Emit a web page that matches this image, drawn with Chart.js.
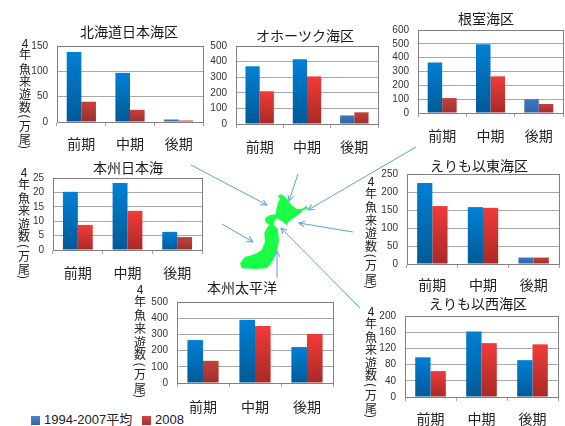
<!DOCTYPE html>
<html lang="ja">
<head>
<meta charset="utf-8">
<title>4年魚来遊数</title>
<script src="https://cdn.jsdelivr.net/npm/chart.js@4"></script>
<style>
  html, body { margin: 0; padding: 0; background: #fff; }
  body { position: relative; width: 565px; height: 426px; overflow: hidden; }
  canvas { position: absolute; }
  svg { position: absolute; left: 0; top: 0; }
  #legend { position: absolute; left: 31px; top: 411px; height: 17px; font: 13px/17px "Liberation Sans", "Noto Sans CJK JP", sans-serif; color: #222; white-space: nowrap; }
  #legend i { position: absolute; top: 5px; width: 9px; height: 9px; }
  #legend span { position: absolute; top: 0; }
</style>
</head>
<body>
<svg width="565" height="426" viewBox="0 0 565 426">
  <defs>
    <marker id="head" markerWidth="7" markerHeight="7" refX="6" refY="3" orient="auto">
      <path d="M0,0 L6,3 L0,6" fill="none" stroke="#5ba3d9" stroke-width="1"/>
    </marker>
  </defs>
  <!-- map of Japan -->
  <polygon fill="#19ff45" transform="translate(235,185) scale(0.3333)"
    points="140,28 150,35 158,45 170,60 185,72 200,72 216,62 218,72 205,75 195,85 175,100 160,112 155,120 140,108 125,100 118,108 118,122 128,130 132,165 125,200 115,225 105,240 95,250 60,252 20,250 15,235 30,215 45,212 65,205 80,195 90,170 88,145 95,130 103,120 92,112 90,100 105,90 122,88 125,68 130,50 135,42 128,32"/>
  <g stroke="#5ba3d9" stroke-width="1" fill="none">
    <line x1="191" y1="165" x2="267" y2="205" marker-end="url(#head)"/>
    <line x1="298" y1="174" x2="289" y2="201" marker-end="url(#head)"/>
    <line x1="416" y1="147" x2="308" y2="210" marker-end="url(#head)"/>
    <line x1="353" y1="232" x2="299" y2="223" marker-end="url(#head)"/>
    <line x1="360" y1="308" x2="281" y2="228" marker-end="url(#head)"/>
    <line x1="277" y1="278" x2="277" y2="251" marker-end="url(#head)"/>
    <line x1="222" y1="224" x2="253" y2="242" marker-end="url(#head)"/>
  </g>
</svg>
<div id="legend">
  <i style="left:0;background:linear-gradient(#4a86cc,#2f64a6)"></i><span style="left:13px">1994-2007平均</span>
  <i style="left:111px;background:linear-gradient(#d04442,#a03230)"></i><span style="left:124px">2008</span>
</div>
<script>
const categories = ["前期", "中期", "後期"];
const seriesNames = ["1994-2007平均", "2008"];
const yAxisLabel = ["4", "年", "魚", "来", "遊", "数", "(", "万", "尾", ")"];
// where each character sits between the top and bottom of the stacked label
const yAxisLabelStops = [0, 0.114, 0.25, 0.37, 0.495, 0.615, 0.705, 0.8, 0.925, 1];

const hokkaidoAvg = [138, 97, 5];
const hokkaido2008 = [40, 24, 3];
const okhotskAvg = [370, 415, 55];
const okhotsk2008 = [210, 305, 75];
const nemuroAvg = [365, 497, 100];
const nemuro2008 = [108, 265, 65];
const honshuJapanSeaAvg = [20.2, 23.3, 6.3];
const honshuJapanSea2008 = [8.7, 13.6, 4.5];
const erimoEastAvg = [225, 158, 18];
const erimoEast2008 = [161, 156, 18];
const erimoWestAvg = [98, 162, 91];
const erimoWest2008 = [64, 133, 130];
const honshuPacificAvg = [265, 390, 222];
const honshuPacific2008 = [137, 352, 303];

// plot box of each panel in page pixels, title centre and label placement
const panels = [
  { title: "北海道日本海区", avg: hokkaidoAvg, latest: hokkaido2008, max: 150, step: 50,
    l: 57, t: 46, r: 203, b: 122, left: 13, titleX: 129, titleGap: 14, labelGap: 22, yLabel: [25, 43, 147] },
  { title: "オホーツク海区", avg: okhotskAvg, latest: okhotsk2008, max: 500, step: 100,
    l: 236, t: 46, r: 378, b: 124, left: 200, titleX: 305, titleGap: 10, labelGap: 23 },
  { title: "根室海区", avg: nemuroAvg, latest: nemuro2008, max: 600, step: 100,
    l: 418, t: 30, r: 563, b: 113, left: 382, titleX: 486, titleGap: 11, labelGap: 23 },
  { title: "本州日本海", avg: honshuJapanSeaAvg, latest: honshuJapanSea2008, max: 25, step: 5,
    l: 53, t: 178, r: 202, b: 250, left: 12, titleX: 128, titleGap: 10, labelGap: 23, yLabel: [24, 172, 277] },
  { title: "えりも以東海区", avg: erimoEastAvg, latest: erimoEast2008, max: 250, step: 50,
    l: 407, t: 174, r: 559, b: 264, left: 359, titleX: 479, titleGap: 8.5, labelGap: 21, yLabel: [371, 181, 287] },
  { title: "えりも以西海区", avg: erimoWestAvg, latest: erimoWest2008, max: 200, step: 40,
    l: 405, t: 316, r: 558, b: 397, left: 359, titleX: 478, titleGap: 12, labelGap: 22, yLabel: [371, 311, 416] },
  { title: "本州太平洋", avg: honshuPacificAvg, latest: honshuPacific2008, max: 500, step: 100,
    l: 177, t: 302, r: 333, b: 383, left: 128, titleX: 242, titleGap: 14, labelGap: 24, yLabel: [140, 289, 396] }
];

const cjkFont = '"Noto Sans CJK JP", sans-serif';
const TOP_MARGIN = 30;
const BOTTOM_MARGIN = 38;

// bars get a vertical gradient, short ones a duller one like in the original
function barFill(ctx, bright, dull, limit) {
  const { chart, parsed } = ctx;
  if (!chart.chartArea || !parsed) return bright[0];
  const y = chart.scales.y;
  const stops = parsed.y / y.max < limit ? dull : bright;
  const g = chart.ctx.createLinearGradient(0, y.getPixelForValue(parsed.y), 0, y.getPixelForValue(0));
  g.addColorStop(0, stops[0]);
  g.addColorStop(1, stops[1]);
  return g;
}

const plotFrame = {
  id: "plotFrame",
  beforeDatasetsDraw(chart) {
    const { ctx, chartArea: a } = chart;
    ctx.save();
    ctx.strokeStyle = "#808080";
    ctx.lineWidth = 1;
    ctx.strokeRect(Math.round(a.left) + 0.5, Math.round(a.top) + 0.5, Math.round(a.width), Math.round(a.height));
    ctx.restore();
  }
};

// titles in the original are not centred over their plots
const titleShift = {
  id: "titleShift",
  afterLayout(chart, args, opts) {
    chart.titleBlock.left = 0;
    chart.titleBlock.right = opts.centre * 2;
  }
};

// stacked vertical axis label, the brackets are turned on their side
const verticalLabel = {
  id: "verticalLabel",
  afterDraw(chart, args, opts) {
    if (!opts.place) return;
    const [x, y0, y1] = opts.place;
    const ctx = chart.ctx;
    ctx.save();
    ctx.fillStyle = "#222";
    ctx.font = "12px " + cjkFont;
    ctx.textAlign = "center";
    ctx.textBaseline = "middle";
    yAxisLabel.forEach((ch, i) => {
      ctx.save();
      ctx.translate(x - opts.left, y0 + (y1 - y0) * yAxisLabelStops[i] - opts.top);
      if (ch === "(" || ch === ")") ctx.rotate(Math.PI / 2);
      ctx.fillText(ch, 0, 0);
      ctx.restore();
    });
    ctx.restore();
  }
};

panels.forEach((p) => {
  const canvas = document.createElement("canvas");
  const yWidth = p.l - p.left;
  const plotWidth = p.r - p.l;
  const width = yWidth + plotWidth + 2;
  const top = p.t - TOP_MARGIN;
  canvas.width = width;
  canvas.height = TOP_MARGIN + (p.b - p.t) + BOTTOM_MARGIN;
  canvas.style.left = p.left + "px";
  canvas.style.top = top + "px";
  document.body.appendChild(canvas);

  const titleBottom = p.titleGap - 8.4;

  new Chart(canvas, {
    type: "bar",
    data: {
      labels: categories,
      datasets: [
        {
          label: seriesNames[0],
          data: p.avg,
          backgroundColor: (c) => barFill(c, ["#0080d6", "#005a96"], ["#3f78c2", "#2f64a6"], 0.2)
        },
        {
          label: seriesNames[1],
          data: p.latest,
          backgroundColor: (c) => barFill(c, ["#f23b38", "#a82926"], ["#c83f3c", "#9c302e"], 0.3)
        }
      ]
    },
    options: {
      responsive: false,
      animation: false,
      devicePixelRatio: 1,
      layout: { padding: { right: 2 } },
      datasets: { bar: { categoryPercentage: 0.6, barPercentage: 1 } },
      plugins: {
        legend: { display: false },
        tooltip: { enabled: false },
        title: {
          display: true,
          text: p.title,
          color: "#1a1a1a",
          font: { family: cjkFont, size: 14, weight: "normal" },
          padding: { top: TOP_MARGIN - 16.8 - titleBottom, bottom: titleBottom }
        },
        titleShift: { centre: p.titleX - p.left },
        verticalLabel: { place: p.yLabel, left: p.left, top: top }
      },
      scales: {
        x: {
          grid: { offset: true, drawOnChartArea: false, tickLength: 4, color: "#a0a0a0" },
          border: { color: "#808080" },
          ticks: {
            color: "#222",
            font: { family: cjkFont, size: 14 },
            padding: p.labelGap - 12.4,
            maxRotation: 0,
            autoSkip: false
          },
          afterFit: (s) => { s.height = BOTTOM_MARGIN; }
        },
        y: {
          min: 0,
          max: p.max,
          grid: { drawTicks: false, color: "#a8a8a8" },
          border: { color: "#808080" },
          ticks: {
            stepSize: p.step,
            autoSkip: false,
            color: "#333",
            padding: 9,
            font: { family: '"Liberation Sans", sans-serif', size: 10 }
          },
          afterFit: (s) => { s.width = yWidth; }
        }
      }
    },
    plugins: [plotFrame, titleShift, verticalLabel]
  });
});
</script>
</body>
</html>
